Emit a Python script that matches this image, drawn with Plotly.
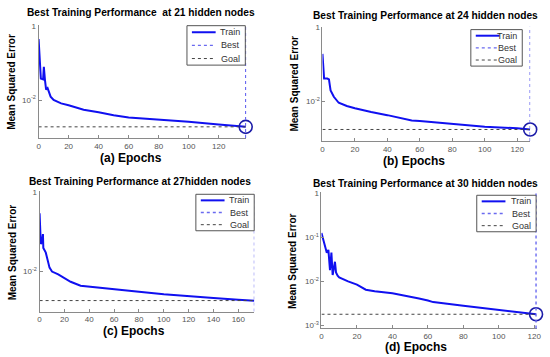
import plotly.graph_objects as go

W, H = 550, 357

# ---------------- data ----------------
a_epochs = [0, 1, 1.5, 3, 3.5, 4.2, 5, 6, 7, 8, 10, 15, 20, 25, 30, 40, 50, 60, 80, 100, 120, 138]
a_mse = [0.437, 0.093, 0.038, 0.036, 0.078, 0.036, 0.019, 0.021, 0.015, 0.0123, 0.0100, 0.0081,
         0.0072, 0.0063, 0.0055, 0.0047, 0.0039, 0.0034, 0.0030, 0.0026, 0.0022, 0.0019]
a_goal, a_best = 0.0019, 138

b_epochs = [0, 0.5, 1, 3, 4, 5, 7, 10, 15, 20, 30, 40, 50, 55, 60, 80, 100, 120, 128]
b_mse = [0.195, 0.10, 0.042, 0.042, 0.040, 0.020, 0.0135, 0.0093, 0.0076, 0.0066, 0.0052, 0.0043,
         0.0035, 0.0031, 0.0030, 0.0025, 0.0021, 0.0019, 0.00176]
b_goal, b_best = 0.00176, 128

c_epochs = [0, 1, 2, 2.7, 3, 5, 8, 10, 15, 20, 25, 33, 40, 60, 80, 100, 120, 140, 160, 173]
c_mse = [0.295, 0.049, 0.056, 0.087, 0.039, 0.0295, 0.0123, 0.0098, 0.0083, 0.0066, 0.0054, 0.0043,
         0.0041, 0.0035, 0.0030, 0.0026, 0.0023, 0.0021, 0.0019, 0.00178]
c_goal, c_best = 0.0018, 173

d_epochs = [0, 1, 2, 3, 3.9, 4.8, 5.6, 6.3, 7.6, 8.2, 9.1, 10, 15, 20, 25, 30, 40, 50, 55, 60, 63,
            80, 100, 120, 121]
d_mse = [0.126, 0.089, 0.058, 0.045, 0.052, 0.018, 0.045, 0.014, 0.028, 0.016, 0.0135, 0.0123,
         0.0100, 0.0085, 0.0065, 0.0060, 0.0054, 0.0046, 0.0041, 0.0037, 0.0034, 0.0028, 0.0023,
         0.00185, 0.0018]
d_goal, d_best = 0.0018, 121

titles = ["Best Training Performance  at 21 hidden nodes",
          "Best Training Performance at 24 hidden nodes",
          "Best Training Performance at 27hidden nodes",
          "Best Training Performance at 30 hidden nodes"]
xlabels = ["(a) Epochs", "(b) Epochs", "(c) Epochs", "(d) Epochs"]
ylabel = "Mean Squared Error"
legend_labels = ["Train", "Best", "Goal"]

x_ticks = [[0, 20, 40, 60, 80, 100, 120],
           [0, 20, 40, 60, 80, 100, 120],
           [0, 20, 40, 60, 80, 100, 120, 140, 160],
           [0, 20, 40, 60, 80, 100, 120]]
y_ticks_short = [1, 0.01]
y_ticktext_short = ["1", "10<sup>-2</sup>"]
y_ticks_long = [1, 0.1, 0.01, 0.001]
y_ticktext_long = ["1", "10<sup>-1</sup>", "10<sup>-2</sup>", "10<sup>-3</sup>"]

# ---------------- layout geometry (pixels) ----------------
panels = [
    dict(ep=a_epochs, mse=a_mse, goal=a_goal, best=a_best,
         px=(37, 247), py=(22, 137), xr=[0, 138.4], yr=[-3.024, 0.027],
         yt=(y_ticks_short, y_ticktext_short),
         title_xy=(141, 10), ylab_xy=(10, 80), xlab_xy=(130, 157),
         leg=(187, 246, 23, 63)),
    dict(ep=b_epochs, mse=b_mse, goal=b_goal, best=b_best,
         px=(324, 534), py=(24, 140), xr=[0, 128], yr=[-3.067, 0.027],
         yt=(y_ticks_short, y_ticktext_short),
         title_xy=(428, 13), ylab_xy=(296, 82), xlab_xy=(417, 160),
         leg=(474, 526, 27, 64)),
    dict(ep=c_epochs, mse=c_mse, goal=c_goal, best=c_best,
         px=(38, 255), py=(191, 313), xr=[0, 172.8], yr=[-3.025, 0.025],
         yt=(y_ticks_short, y_ticktext_short),
         title_xy=(140, 181), ylab_xy=(11, 253), xlab_xy=(133, 333),
         leg=(196, 255, 194, 231)),
    dict(ep=d_epochs, mse=d_mse, goal=d_goal, best=d_best,
         px=(323, 541), py=(192, 330), xr=[0, 121.6], yr=[-3.065, 0.022],
         yt=(y_ticks_long, y_ticktext_long),
         title_xy=(428, 183), ylab_xy=(294, 262), xlab_xy=(419, 349),
         leg=(480, 540, 195, 232)),
]

TRAIN_C = "#1010f0"
BEST_C = "#6a6af0"
GOAL_C = "#444444"
CIRCLE_C = "#1c1ca8"
AXIS_C = "#8a8a8a"
TICK_FONT = dict(family="Liberation Sans, Arial", size=8, color="#555555")
FONT = "Liberation Sans, Arial"


def fx(p):
    return p / W


def fy(p):
    return 1 - p / H


fig = go.Figure()
layout = dict(width=W, height=H, margin=dict(l=0, r=0, t=0, b=0),
              paper_bgcolor="white", plot_bgcolor="white", showlegend=False)
annotations = []
shapes = []

for i, p in enumerate(panels):
    n = "" if i == 0 else str(i + 1)
    xa, ya = "x" + n, "y" + n
    # train curve
    fig.add_trace(go.Scatter(x=p["ep"], y=p["mse"], mode="lines", xaxis=xa, yaxis=ya,
                             line=dict(color=TRAIN_C, width=2), hoverinfo="skip"))
    # goal line
    fig.add_trace(go.Scatter(x=[0, p["best"]], y=[p["goal"], p["goal"]], mode="lines",
                             xaxis=xa, yaxis=ya,
                             line=dict(color=GOAL_C, width=1, dash="dot"), hoverinfo="skip"))
    # best circle
    fig.add_trace(go.Scatter(x=[p["best"]], y=[p["mse"][-1]], mode="markers", xaxis=xa, yaxis=ya,
                             cliponaxis=False,
                             marker=dict(symbol="circle-open", size=13,
                                         line=dict(color=CIRCLE_C, width=1.6), color=CIRCLE_C),
                             hoverinfo="skip"))
    # best vertical line
    shapes.append(dict(type="line", xref=xa, yref=ya + " domain", x0=p["best"], x1=p["best"],
                       y0=0, y1=1, line=dict(color=BEST_C, width=1.4, dash="dot"), layer="above"))

    layout["xaxis" + n] = dict(domain=[fx(p["px"][0]), fx(p["px"][1])], anchor=ya, range=p["xr"],
                               tickvals=x_ticks[i], showline=True, linecolor=AXIS_C, linewidth=1,
                               ticks="inside", ticklen=3, tickcolor=AXIS_C, showgrid=False,
                               zeroline=False, tickfont=TICK_FONT)
    layout["yaxis" + n] = dict(domain=[fy(p["py"][1]), fy(p["py"][0])], anchor=xa, type="log",
                               range=p["yr"], tickvals=p["yt"][0], ticktext=p["yt"][1],
                               showline=True, linecolor=AXIS_C, linewidth=1, ticks="inside",
                               ticklen=3, tickcolor=AXIS_C, showgrid=False, zeroline=False,
                               tickfont=TICK_FONT)

    # title
    tx, ty = p["title_xy"]
    annotations.append(dict(text="<b>" + titles[i] + "</b>", x=fx(tx), y=fy(ty), xref="paper",
                            yref="paper", xanchor="center", yanchor="middle", showarrow=False,
                            font=dict(family=FONT, size=10.2, color="black")))
    # y label
    lx, ly = p["ylab_xy"]
    annotations.append(dict(text="<b>" + ylabel + "</b>", x=fx(lx), y=fy(ly), xref="paper",
                            yref="paper", xanchor="center", yanchor="middle", showarrow=False,
                            textangle=-90, font=dict(family=FONT, size=10, color="black")))
    # x label
    bx, by = p["xlab_xy"]
    annotations.append(dict(text="<b>" + xlabels[i] + "</b>", x=fx(bx), y=fy(by), xref="paper",
                            yref="paper", xanchor="center", yanchor="middle", showarrow=False,
                            font=dict(family=FONT, size=12, color="black")))

    # legend box
    l0, l1, t0, t1 = p["leg"]
    shapes.append(dict(type="rect", xref="paper", yref="paper", x0=fx(l0), x1=fx(l1),
                       y0=fy(t1), y1=fy(t0), line=dict(color="#555555", width=1),
                       fillcolor="white", layer="above"))
    row_h = (t1 - t0) / 3.0
    styles = [dict(color=TRAIN_C, width=2), dict(color=BEST_C, width=1.3, dash="dot"),
              dict(color=GOAL_C, width=1, dash="dot")]
    for k in range(3):
        yy = t0 + row_h * (k + 0.5)
        shapes.append(dict(type="line", xref="paper", yref="paper", x0=fx(l0 + 5),
                           x1=fx(l0 + 29), y0=fy(yy), y1=fy(yy), line=styles[k], layer="above"))
        annotations.append(dict(text=legend_labels[k], x=fx(l1 - 3), y=fy(yy), xref="paper",
                                yref="paper", xanchor="right", yanchor="middle", showarrow=False,
                                font=dict(family=FONT, size=9, color="#333333")))

layout["annotations"] = annotations
layout["shapes"] = shapes
fig.update_layout(**layout)
fig.write_html("out.html", config={"displayModeBar": False},
               post_script="document.body.style.margin='0';document.body.style.overflow='hidden';")
